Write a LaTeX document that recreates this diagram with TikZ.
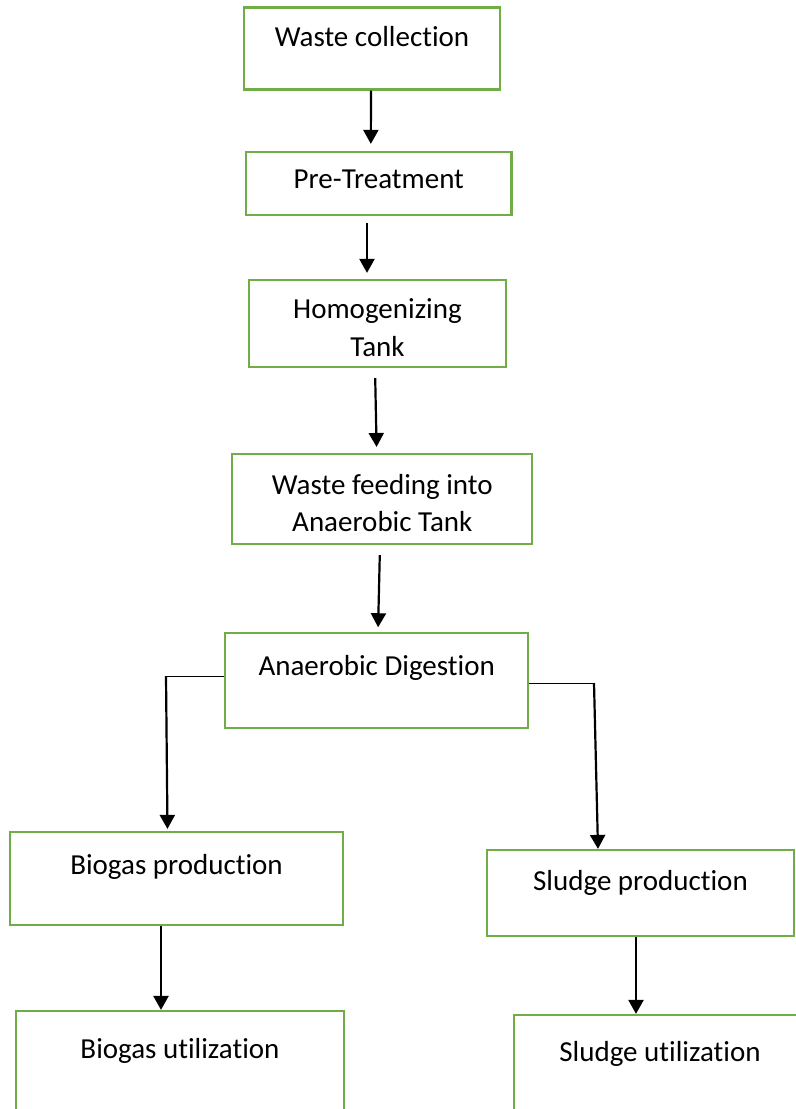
\documentclass[tikz,border=0pt]{standalone}
\usepackage{fontspec}
\setmainfont{Carlito}[Ligatures=CommonOff]
\usepackage{xcolor}
\usepackage{tikz}
\usetikzlibrary{arrows.meta}
\definecolor{boxgreen}{HTML}{70AD47}
\tikzstyle{box} = [rectangle, draw=boxgreen, line width=1.1pt, inner sep=0pt]
\tikzstyle{txt} = [anchor=center, align=center, inner sep=0pt, font=\fontsize{14.5}{18.85}\selectfont]
\tikzstyle{arrow} = [line width=1.1pt, -{Triangle[width=7.5pt,length=7pt]}]
\tikzstyle{link} = [line width=0.5pt]

\begin{document}
\begin{tikzpicture}[x=0.5pt, y=-0.5pt]
\useasboundingbox (0,0) rectangle (796,1109);

\node (wc) [box, minimum width=128pt, minimum height=41pt, label={[txt, yshift=-15.25pt]above:Waste collection}] at (372,48.5) {};
\node (pt) [box, minimum width=132.75pt, minimum height=31.5pt, label={[txt, yshift=-14.25pt]above:Pre-Treatment}] at (378.8,183.5) {};
\node (ht) [box, minimum width=128.5pt, minimum height=43.5pt, label={[txt, yshift=-24.5pt]above:Homogenizing\\Tank}] at (377.5,323.5) {};
\node (wf) [box, minimum width=150pt, minimum height=45.15pt, label={[txt, yshift=-25pt]above:Waste feeding into\\Anaerobic Tank}] at (382.3,499.2) {};
\node (ad) [box, minimum width=151.65pt, minimum height=47.35pt, label={[txt, yshift=-17.75pt]above:Anaerobic Digestion}] at (376.7,680.4) {};
\node (bp) [box, minimum width=166.5pt, minimum height=46.5pt, label={[txt, yshift=-18.25pt]above:Biogas production}] at (176.5,878.5) {};
\node (sp) [box, minimum width=153.5pt, minimum height=43pt, label={[txt, yshift=-17.25pt]above:Sludge production}] at (640.5,893) {};
\node (bu) [box, minimum width=164pt, minimum height=64.5pt, label={[txt, yshift=-20.75pt]above:Biogas utilization}] at (180,1075.5) {};
\node (su) [box, minimum width=146pt, minimum height=62.5pt, label={[txt, yshift=-20pt]above:Sludge utilization}] at (660,1077.5) {};

\coordinate (lbend) at (166,676);
\coordinate (rbend) at (594,683);

% Arrows
\draw [arrow, shorten >=3.5pt] ([xshift=-0.5pt]wc.south) -- ([xshift=-4pt]pt.north);
\draw [arrow, shorten <=3.3pt, shorten >=3pt] ([xshift=-5.9pt]pt.south) -- ([xshift=-5.25pt]ht.north);
\draw [arrow, shorten <=5pt, shorten >=3pt] ([xshift=-1.25pt]ht.south) -- ([xshift=-2.8pt]wf.north);
\draw [arrow, shorten <=4.85pt, shorten >=2.35pt] ([xshift=-1.15pt]wf.south) -- ([xshift=0.65pt]ad.north);
\draw [link] (ad.west |- lbend) -- (lbend);
\draw [arrow, shorten >=1pt] (lbend) -- ([xshift=-4.5pt]bp.north);
\draw [link] (ad.east |- rbend) -- (rbend);
\draw [arrow] (rbend) -- ([xshift=-21.25pt]sp.north);
\draw [arrow] ([xshift=-7.75pt]bp.south) -- ([xshift=-9.5pt]bu.north);
\draw [arrow] ([xshift=-2.25pt]sp.south) -- ([xshift=-12pt]su.north);

\end{tikzpicture}
\end{document}
